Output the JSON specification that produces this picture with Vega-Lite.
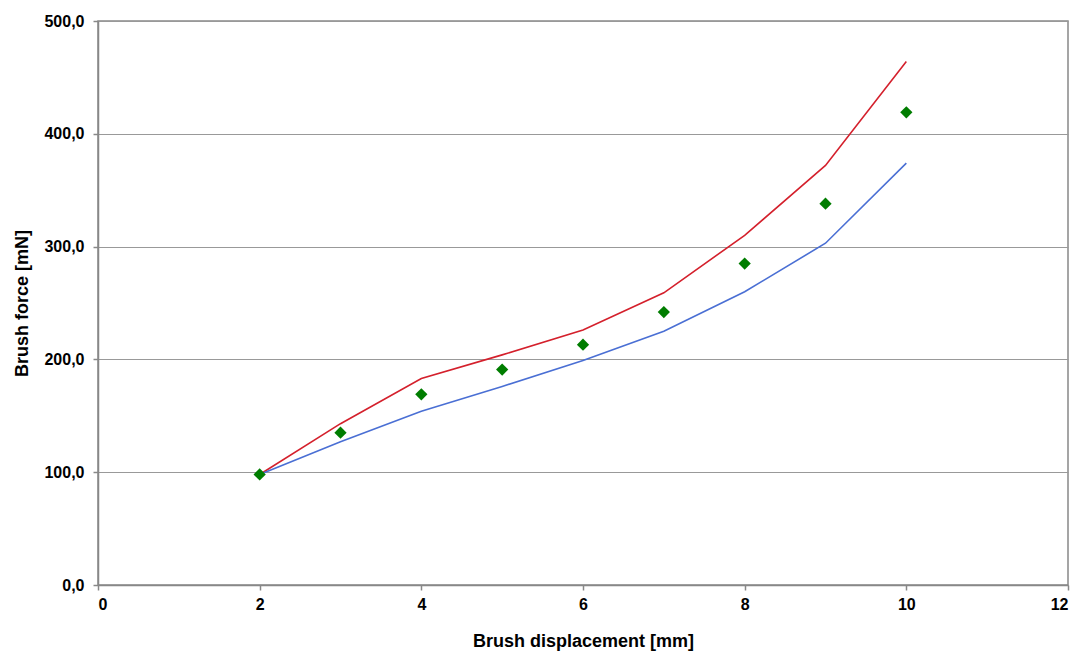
{
  "$schema": "https://vega.github.io/schema/vega-lite/v6.json",
  "width": 970,
  "height": 564,
  "autosize": "none",
  "padding": {"left": 98, "top": 21, "right": 18, "bottom": 68},
  "background": "white",
  "config": {
    "view": {"stroke": "#888888", "strokeWidth": 1.5},
    "font": "Liberation Sans"
  },
  "data": {
    "values": [
      {"d": 2, "series": "upper", "f": 98},
      {"d": 3, "series": "upper", "f": 143},
      {"d": 4, "series": "upper", "f": 183},
      {"d": 5, "series": "upper", "f": 204},
      {"d": 6, "series": "upper", "f": 226},
      {"d": 7, "series": "upper", "f": 259},
      {"d": 8, "series": "upper", "f": 310},
      {"d": 9, "series": "upper", "f": 372},
      {"d": 10, "series": "upper", "f": 464},
      {"d": 2, "series": "lower", "f": 98},
      {"d": 3, "series": "lower", "f": 127},
      {"d": 4, "series": "lower", "f": 154},
      {"d": 5, "series": "lower", "f": 176},
      {"d": 6, "series": "lower", "f": 199},
      {"d": 7, "series": "lower", "f": 225},
      {"d": 8, "series": "lower", "f": 260},
      {"d": 9, "series": "lower", "f": 303},
      {"d": 10, "series": "lower", "f": 374},
      {"d": 2, "series": "measured", "f": 98},
      {"d": 3, "series": "measured", "f": 135},
      {"d": 4, "series": "measured", "f": 169},
      {"d": 5, "series": "measured", "f": 191},
      {"d": 6, "series": "measured", "f": 213},
      {"d": 7, "series": "measured", "f": 242},
      {"d": 8, "series": "measured", "f": 285},
      {"d": 9, "series": "measured", "f": 338},
      {"d": 10, "series": "measured", "f": 419}
    ]
  },
  "encoding": {
    "x": {
      "field": "d", "type": "quantitative",
      "scale": {"domain": [0, 12], "nice": false},
      "axis": {
        "title": "Brush displacement [mm]",
        "values": [0, 2, 4, 6, 8, 10, 12],
        "grid": false,
        "domainColor": "#888888", "domainWidth": 1.5,
        "tickColor": "#888888", "tickSize": 5, "tickWidth": 1.5,
        "labelFont": "Liberation Sans", "labelFontSize": 16, "labelFontWeight": "bold", "labelColor": "#000000",
        "labelPadding": 6,
        "titleFont": "Liberation Sans", "titleFontSize": 18, "titleFontWeight": "bold", "titleColor": "#000000",
        "titlePadding": 20
      }
    },
    "y": {
      "field": "f", "type": "quantitative",
      "scale": {"domain": [0, 500], "nice": false},
      "axis": {
        "title": "Brush force [mN]",
        "values": [0, 100, 200, 300, 400, 500],
        "labelExpr": "replace(format(datum.value, '.1f'), '.', ',')",
        "grid": true, "gridColor": "#999999", "gridWidth": 1.2,
        "domainColor": "#888888", "domainWidth": 1.5,
        "tickColor": "#888888", "tickSize": 5, "tickWidth": 1.5,
        "labelFont": "Liberation Sans", "labelFontSize": 16, "labelFontWeight": "bold", "labelColor": "#000000",
        "labelPadding": 9,
        "titleFont": "Liberation Sans", "titleFontSize": 18, "titleFontWeight": "bold", "titleColor": "#000000",
        "titlePadding": 12
      }
    }
  },
  "layer": [
    {
      "transform": [{"filter": "datum.series !== 'measured'"}],
      "mark": {"type": "line", "strokeWidth": 1.6},
      "encoding": {
        "color": {
          "field": "series", "type": "nominal",
          "scale": {"domain": ["upper", "lower"], "range": ["#d4202c", "#4a6fd4"]},
          "legend": null
        }
      }
    },
    {
      "transform": [{"filter": "datum.series === 'measured'"}],
      "mark": {"type": "point", "shape": "diamond", "filled": true, "size": 150, "color": "#007d00", "opacity": 1}
    }
  ]
}
